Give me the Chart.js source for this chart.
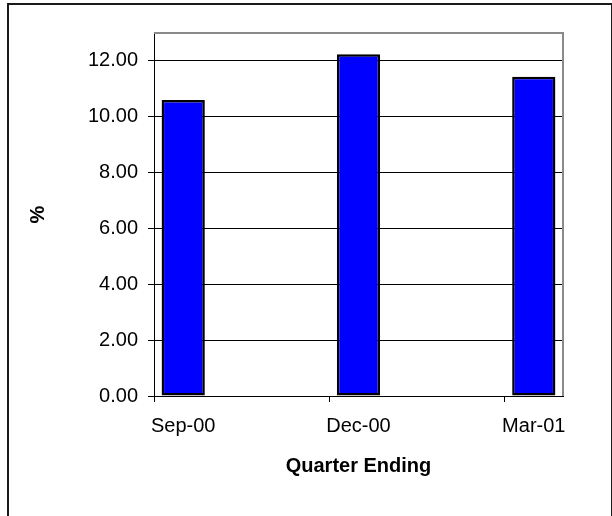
<!DOCTYPE html>
<html>
<head>
<meta charset="utf-8">
<script src="https://cdn.jsdelivr.net/npm/chart.js@4/dist/chart.umd.min.js"></script>
<style>
  html, body { margin: 0; padding: 0; background: #fff; }
  #wrap { position: relative; width: 612px; height: 516px; overflow: hidden; }
  #c { position: absolute; left: 0; top: 0; }
  #frame { position: absolute; left: 7px; top: 3px; width: 602px; height: 600px; border: 2px solid #1a1a1a; pointer-events: none; }
</style>
</head>
<body>
<div id="wrap">
  <canvas id="c" width="612" height="516"></canvas>
  <div id="frame"></div>
</div>
<script>
// Monthly slots of the date axis; only quarter ends carry values
const months = ["Sep-00", "Oct-00", "Nov-00", "Dec-00", "Jan-01", "Feb-01", "Mar-01"];
const quarterLabels = ["Sep-00", "Dec-00", "Mar-01"];
const rateValues = [10.6, null, null, 12.24, null, null, 11.43];
const yTicks = [0, 2, 4, 6, 8, 10, 12];

const FONT = "'Liberation Sans', Arial, sans-serif";

const plotFrame = {
  id: 'plotFrame',
  afterDraw(chart) {
    const { ctx, chartArea: a } = chart;
    ctx.save();
    ctx.strokeStyle = '#8a8a8a';
    ctx.lineWidth = 2;
    ctx.beginPath();
    ctx.moveTo(a.left, a.top);
    ctx.lineTo(a.right, a.top);
    ctx.lineTo(a.right, a.bottom);
    ctx.stroke();
    ctx.restore();
  }
};

new Chart(document.getElementById('c'), {
  type: 'bar',
  data: {
    labels: months,
    datasets: [{
      data: rateValues,
      backgroundColor: '#0000ff',
      borderColor: '#000000',
      borderWidth: 2.5,
      borderSkipped: false,
      inflateAmount: 0,
      categoryPercentage: 1.0,
      barPercentage: 0.74
    }]
  },
  options: {
    responsive: false,
    animation: false,
    devicePixelRatio: 1,
    layout: { padding: { left: 0, right: 49, top: 33, bottom: 0 } },
    plugins: { legend: { display: false }, tooltip: { enabled: false } },
    scales: {
      x: {
        offset: true,
        grid: {
          offset: true,
          drawOnChartArea: false,
          drawTicks: true,
          tickLength: 6,
          color: (ctx) => (ctx.index % 3 === 0 && ctx.index < months.length) ? '#000' : 'rgba(0,0,0,0)'
        },
        border: { display: true, color: '#000', width: 1 },
        ticks: {
          autoSkip: false,
          maxRotation: 0,
          padding: 12,
          color: '#000',
          font: { family: FONT, size: 20 },
          callback: function(v, i) { const l = months[i]; return quarterLabels.includes(l) ? l : ''; }
        },
        title: {
          display: true,
          text: 'Quarter Ending',
          color: '#000',
          font: { family: FONT, size: 20, weight: 'bold' },
          padding: { top: 0, bottom: 38 }
        },
        afterFit: (s) => { s.height = 120; }
      },
      y: {
        min: 0,
        max: 13,
        ticks: {
          stepSize: 2,
          includeBounds: false,
          padding: 10,
          color: '#000',
          font: { family: FONT, size: 20 },
          callback: (v) => yTicks.includes(v) ? v.toFixed(2) : ''
        },
        grid: { color: '#000', lineWidth: 1, drawTicks: true, tickLength: 6 },
        border: { display: true, color: '#000', width: 1 },
        title: {
          display: true,
          text: '%',
          color: '#000',
          font: { family: FONT, size: 20, weight: 'bold' },
          padding: { top: 26, bottom: 0 }
        },
        afterFit: (s) => { s.width = 154; }
      }
    }
  },
  plugins: [plotFrame]
});
</script>
</body>
</html>
